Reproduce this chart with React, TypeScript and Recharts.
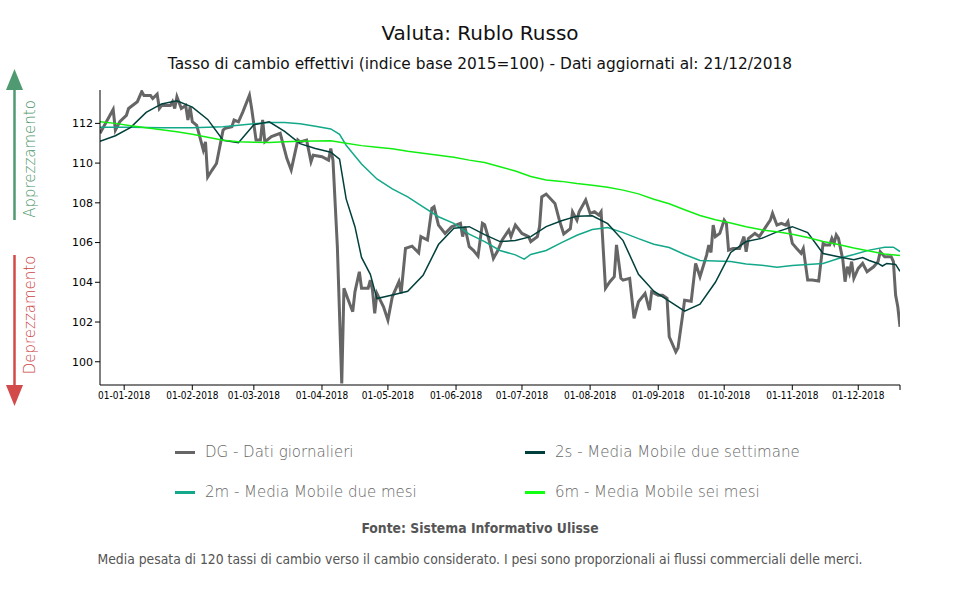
import React from 'react';
import { LineChart, Line, XAxis, YAxis } from 'recharts';

// daily series (DG)
const dgPoints: [string, number][] = [
  ['2017-12-21', 111.5], ['2017-12-27', 112.7], ['2017-12-28', 111.66], ['2017-12-30', 112.08],
  ['2018-01-02', 112.4], ['2018-01-03', 112.75], ['2018-01-07', 113.09], ['2018-01-09', 113.6],
  ['2018-01-10', 113.4], ['2018-01-13', 113.4], ['2018-01-14', 113.25], ['2018-01-16', 113.47],
  ['2018-01-17', 112.75], ['2018-01-18', 112.9], ['2018-01-22', 112.9], ['2018-01-23', 113.09],
  ['2018-01-24', 112.75], ['2018-01-25', 113.34], ['2018-01-27', 112.75], ['2018-01-29', 112.9],
  ['2018-01-30', 112.17], ['2018-01-31', 112.83], ['2018-02-01', 112.08], ['2018-02-03', 111.9],
  ['2018-02-04', 111.5], ['2018-02-06', 110.66], ['2018-02-07', 111.07], ['2018-02-08', 109.3],
  ['2018-02-10', 109.65], ['2018-02-12', 109.98], ['2018-02-15', 111.66], ['2018-02-16', 111.75],
  ['2018-02-19', 111.83], ['2018-02-20', 112.17], ['2018-02-22', 112.08], ['2018-02-24', 112.58],
  ['2018-02-27', 113.42], ['2018-02-28', 112.75], ['2018-03-02', 111.16], ['2018-03-04', 111.16],
  ['2018-03-05', 112.17], ['2018-03-06', 111.07], ['2018-03-09', 111.33], ['2018-03-13', 111.5],
  ['2018-03-16', 110.24], ['2018-03-18', 109.65], ['2018-03-21', 111.16], ['2018-03-22', 111.07],
  ['2018-03-25', 111.16], ['2018-03-27', 110.07], ['2018-03-28', 110.4], ['2018-04-01', 110.32],
  ['2018-04-04', 110.15], ['2018-04-05', 110.74], ['2018-04-06', 110.15], ['2018-04-08', 105.79],
  ['2018-04-10', 98.91], ['2018-04-11', 103.7], ['2018-04-13', 103.1], ['2018-04-15', 102.52],
  ['2018-04-16', 103.52], ['2018-04-18', 104.53], ['2018-04-19', 103.7], ['2018-04-22', 103.7],
  ['2018-04-23', 104.11], ['2018-04-24', 103.6], ['2018-04-25', 102.44], ['2018-04-26', 103.44],
  ['2018-04-29', 102.77], ['2018-05-01', 102.1], ['2018-05-03', 103.27], ['2018-05-06', 104.03],
  ['2018-05-07', 103.44], ['2018-05-09', 105.71], ['2018-05-12', 105.82], ['2018-05-15', 105.49],
  ['2018-05-16', 106.3], ['2018-05-19', 106.13], ['2018-05-21', 107.72], ['2018-05-22', 107.8],
  ['2018-05-24', 106.88], ['2018-05-27', 106.46], ['2018-05-30', 106.8], ['2018-06-03', 106.97],
  ['2018-06-04', 106.3], ['2018-06-05', 106.8], ['2018-06-07', 105.79], ['2018-06-09', 105.6],
  ['2018-06-11', 105.32], ['2018-06-13', 106.97], ['2018-06-14', 106.9], ['2018-06-16', 106.13],
  ['2018-06-18', 105.2], ['2018-06-20', 105.6], ['2018-06-22', 106.13], ['2018-06-25', 106.63],
  ['2018-06-26', 106.3], ['2018-06-28', 106.88], ['2018-07-01', 106.46], ['2018-07-04', 106.3],
  ['2018-07-05', 106.05], ['2018-07-08', 106.3], ['2018-07-09', 106.8], ['2018-07-10', 108.3],
  ['2018-07-12', 108.44], ['2018-07-16', 107.97], ['2018-07-18', 107.13], ['2018-07-20', 106.43],
  ['2018-07-23', 106.7], ['2018-07-24', 107.55], ['2018-07-26', 107.13], ['2018-07-27', 107.55],
  ['2018-07-30', 108.14], ['2018-08-01', 107.47], ['2018-08-03', 107.55], ['2018-08-05', 107.38],
  ['2018-08-06', 107.55], ['2018-08-08', 103.7], ['2018-08-10', 104.03], ['2018-08-12', 104.28],
  ['2018-08-13', 105.88], ['2018-08-15', 104.2], ['2018-08-16', 104.11], ['2018-08-19', 104.2],
  ['2018-08-21', 102.19], ['2018-08-23', 103.02], ['2018-08-26', 103.44], ['2018-08-28', 102.6],
  ['2018-08-29', 103.52], ['2018-09-01', 103.35], ['2018-09-03', 103.35], ['2018-09-05', 103.19],
  ['2018-09-06', 101.26], ['2018-09-09', 100.5], ['2018-09-10', 100.7], ['2018-09-12', 102.27],
  ['2018-09-13', 103.1], ['2018-09-16', 103.05], ['2018-09-18', 104.95], ['2018-09-20', 104.28],
  ['2018-09-23', 105.37], ['2018-09-24', 105.88], ['2018-09-25', 105.5], ['2018-09-26', 106.88],
  ['2018-09-27', 106.3], ['2018-09-29', 106.46], ['2018-10-01', 107.13], ['2018-10-02', 106.97],
  ['2018-10-03', 105.62], ['2018-10-05', 105.7], ['2018-10-08', 105.7], ['2018-10-10', 106.3],
  ['2018-10-11', 105.54], ['2018-10-12', 106.2], ['2018-10-15', 106.46], ['2018-10-17', 106.3],
  ['2018-10-20', 106.8], ['2018-10-22', 107.13], ['2018-10-23', 107.47], ['2018-10-25', 106.88],
  ['2018-10-27', 106.97], ['2018-10-29', 106.88], ['2018-10-30', 107.05], ['2018-11-01', 105.96],
  ['2018-11-03', 105.7], ['2018-11-05', 105.46], ['2018-11-06', 105.7], ['2018-11-08', 104.11],
  ['2018-11-10', 104.11], ['2018-11-13', 104.06], ['2018-11-15', 105.96], ['2018-11-16', 105.88],
  ['2018-11-18', 105.88], ['2018-11-19', 106.21], ['2018-11-20', 105.96], ['2018-11-21', 106.38],
  ['2018-11-22', 106.21], ['2018-11-24', 105.12], ['2018-11-25', 104.03], ['2018-11-26', 104.78],
  ['2018-11-27', 104.45], ['2018-11-28', 105.04], ['2018-11-29', 104.2], ['2018-12-01', 104.7],
  ['2018-12-03', 104.95], ['2018-12-05', 104.53], ['2018-12-08', 104.78], ['2018-12-10', 105.04],
  ['2018-12-11', 105.54], ['2018-12-13', 105.29], ['2018-12-16', 105.29], ['2018-12-17', 105.04],
  ['2018-12-18', 103.36], ['2018-12-19', 102.77], ['2018-12-20', 101.76],
];

// two-week moving average
const ma2sPoints: [string, number][] = [
  ['2017-12-21', 111.1], ['2017-12-28', 111.38], ['2018-01-04', 111.8], ['2018-01-11', 112.55],
  ['2018-01-18', 112.98], ['2018-01-25', 113.14], ['2018-02-01', 112.82], ['2018-02-08', 112.2],
  ['2018-02-15', 111.15], ['2018-02-22', 111.03], ['2018-03-01', 111.93], ['2018-03-08', 112.08],
  ['2018-03-15', 111.6], ['2018-03-22', 110.98], ['2018-03-29', 110.74], ['2018-04-05', 110.55],
  ['2018-04-09', 110.2], ['2018-04-12', 108.2], ['2018-04-16', 106.8], ['2018-04-19', 105.25],
  ['2018-04-23', 104.4], ['2018-04-26', 103.18], ['2018-05-03', 103.36], ['2018-05-10', 103.55],
  ['2018-05-17', 104.35], ['2018-05-24', 105.9], ['2018-05-31', 106.72], ['2018-06-07', 106.8],
  ['2018-06-14', 106.4], ['2018-06-21', 106.05], ['2018-06-28', 106.1], ['2018-07-05', 106.3],
  ['2018-07-12', 106.8], ['2018-07-19', 107.1], ['2018-07-26', 107.33], ['2018-08-02', 107.35],
  ['2018-08-09', 106.95], ['2018-08-16', 106.1], ['2018-08-23', 104.4], ['2018-08-30', 103.55],
  ['2018-09-06', 103.05], ['2018-09-13', 102.55], ['2018-09-20', 102.9], ['2018-09-27', 104.0],
  ['2018-10-04', 105.5], ['2018-10-11', 106.05], ['2018-10-18', 106.21], ['2018-10-25', 106.54],
  ['2018-11-01', 106.8], ['2018-11-08', 106.5], ['2018-11-15', 105.45], ['2018-11-22', 105.29],
  ['2018-11-29', 105.13], ['2018-12-03', 105.25], ['2018-12-06', 105.1], ['2018-12-10', 104.95],
  ['2018-12-12', 104.82], ['2018-12-14', 104.95], ['2018-12-18', 104.9], ['2018-12-20', 104.55],
];

// two-month moving average
const ma2mPoints: [string, number][] = [
  ['2017-12-21', 111.8], ['2017-12-28', 111.8], ['2018-01-04', 111.8], ['2018-01-11', 111.79],
  ['2018-01-18', 111.78], ['2018-01-25', 111.78], ['2018-02-01', 111.78], ['2018-02-08', 111.8],
  ['2018-02-15', 111.83], ['2018-02-22', 111.9], ['2018-03-01', 111.98], ['2018-03-08', 112.05],
  ['2018-03-15', 112.04], ['2018-03-22', 111.98], ['2018-03-29', 111.86], ['2018-04-05', 111.72],
  ['2018-04-09', 111.45], ['2018-04-12', 110.9], ['2018-04-19', 109.95], ['2018-04-26', 109.2],
  ['2018-05-03', 108.7], ['2018-05-10', 108.3], ['2018-05-17', 107.8], ['2018-05-24', 107.3],
  ['2018-05-31', 106.97], ['2018-06-07', 106.42], ['2018-06-14', 106.05], ['2018-06-21', 105.6],
  ['2018-06-28', 105.38], ['2018-07-02', 105.17], ['2018-07-05', 105.4], ['2018-07-12', 105.6],
  ['2018-07-19', 106.0], ['2018-07-26', 106.37], ['2018-08-02', 106.66], ['2018-08-09', 106.76],
  ['2018-08-16', 106.5], ['2018-08-23', 106.2], ['2018-08-30', 105.92], ['2018-09-06', 105.75],
  ['2018-09-13', 105.4], ['2018-09-20', 105.1], ['2018-09-27', 105.07], ['2018-10-04', 105.05],
  ['2018-10-11', 104.92], ['2018-10-18', 104.86], ['2018-10-25', 104.76], ['2018-11-01', 104.85],
  ['2018-11-08', 104.9], ['2018-11-15', 104.95], ['2018-11-22', 105.2], ['2018-11-29', 105.4],
  ['2018-12-06', 105.62], ['2018-12-13', 105.76], ['2018-12-17', 105.77], ['2018-12-20', 105.55],
];

// six-month moving average
const ma6mPoints: [string, number][] = [
  ['2017-12-21', 112.08], ['2017-12-28', 112.0], ['2018-01-04', 111.88], ['2018-01-11', 111.78],
  ['2018-01-18', 111.68], ['2018-01-25', 111.58], ['2018-02-01', 111.45], ['2018-02-08', 111.3],
  ['2018-02-15', 111.15], ['2018-02-22', 111.07], ['2018-03-01', 111.05], ['2018-03-08', 111.04],
  ['2018-03-15', 111.07], ['2018-03-22', 111.1], ['2018-03-29', 111.11], ['2018-04-05', 111.12],
  ['2018-04-12', 111.0], ['2018-04-19', 110.88], ['2018-04-26', 110.8], ['2018-05-03', 110.72],
  ['2018-05-10', 110.6], ['2018-05-17', 110.5], ['2018-05-24', 110.4], ['2018-05-31', 110.3],
  ['2018-06-07', 110.15], ['2018-06-14', 110.03], ['2018-06-21', 109.82], ['2018-06-28', 109.6],
  ['2018-07-05', 109.33], ['2018-07-12', 109.15], ['2018-07-19', 109.08], ['2018-07-26', 108.97],
  ['2018-08-02', 108.88], ['2018-08-09', 108.78], ['2018-08-16', 108.64], ['2018-08-23', 108.45],
  ['2018-08-30', 108.18], ['2018-09-06', 107.95], ['2018-09-13', 107.65], ['2018-09-20', 107.36],
  ['2018-09-27', 107.15], ['2018-10-04', 106.98], ['2018-10-11', 106.8], ['2018-10-18', 106.64],
  ['2018-10-25', 106.54], ['2018-11-01', 106.42], ['2018-11-08', 106.25], ['2018-11-15', 106.05],
  ['2018-11-22', 105.9], ['2018-11-29', 105.73], ['2018-12-06', 105.58], ['2018-12-13', 105.42],
  ['2018-12-20', 105.35],
];

const monthTicks = [
  '2018-01-01', '2018-02-01', '2018-03-01', '2018-04-01', '2018-05-01', '2018-06-01',
  '2018-07-01', '2018-08-01', '2018-09-01', '2018-10-01', '2018-11-01', '2018-12-01',
];
const yTicks = [100, 102, 104, 106, 108, 110, 112];

const legendItems = [
  { name: 'DG - Dati giornalieri', color: '#666666' },
  { name: '2s - Media Mobile due settimane', color: '#00403c' },
  { name: '2m - Media Mobile due mesi', color: '#14a88a' },
  { name: '6m - Media Mobile sei mesi', color: '#11ff11' },
];

// day number from 1 Jan 2018
const toDay = (s: string) => {
  const [y, m, d] = s.split('-').map(Number);
  return (Date.UTC(y, m - 1, d) - Date.UTC(2018, 0, 1)) / 86400000;
};
const toRows = (pts: [string, number][]) => pts.map(([date, v]) => ({ d: toDay(date), v }));

const dgData = toRows(dgPoints);
const ma2sData = toRows(ma2sPoints);
const ma2mData = toRows(ma2mPoints);
const ma6mData = toRows(ma6mPoints);

const startDay = toDay('2017-12-21');
const endDay = toDay('2018-12-20');
const xTicks = [...monthTicks.map(toDay), endDay];

const fmtTick = (d: number) => {
  if (d === endDay) return '';
  const dt = new Date(Date.UTC(2018, 0, 1) + d * 86400000);
  const mm = String(dt.getUTCMonth() + 1).padStart(2, '0');
  return `01-${mm}-2018`;
};

const cond = '"DejaVu Sans Condensed", "DejaVu Sans", sans-serif';

export default function App() {
  return (
    <div style={{ position: 'absolute', left: 0, top: 0, width: 960, height: 600, background: '#fff', fontFamily: '"DejaVu Sans", sans-serif' }}>
      <LineChart width={960} height={600} margin={{ top: 90, right: 60, bottom: 185, left: 40 }}>
        <XAxis
          type="number"
          dataKey="d"
          domain={[startDay, endDay]}
          ticks={xTicks}
          tickFormatter={fmtTick}
          allowDataOverflow
          height={30}
          tickSize={5}
          tickMargin={2}
          axisLine={{ stroke: '#000' }}
          tickLine={{ stroke: '#000' }}
          tick={{ fontSize: 10, fill: '#000', fontFamily: cond }}
        />
        <YAxis
          type="number"
          domain={[98.83, 113.68]}
          ticks={yTicks}
          allowDataOverflow
          width={60}
          tickSize={5}
          axisLine={{ stroke: '#000' }}
          tickLine={{ stroke: '#000' }}
          tick={{ fontSize: 11, fill: '#000' }}
        />
        <Line data={dgData} dataKey="v" type="linear" stroke="#666666" strokeWidth={3} dot={false} isAnimationActive={false} />
        <Line data={ma2mData} dataKey="v" type="linear" stroke="#14a88a" strokeWidth={1.5} dot={false} isAnimationActive={false} />
        <Line data={ma2sData} dataKey="v" type="linear" stroke="#00403c" strokeWidth={1.5} dot={false} isAnimationActive={false} />
        <Line data={ma6mData} dataKey="v" type="linear" stroke="#11ee11" strokeWidth={1.5} dot={false} isAnimationActive={false} />
      </LineChart>

      <div style={{ position: 'absolute', left: 0, top: 21, width: 960, textAlign: 'center', fontSize: 20, color: '#111' }}>
        Valuta: Rublo Russo
      </div>
      <div style={{ position: 'absolute', left: 0, top: 55, width: 960, textAlign: 'center', fontSize: 15.4, color: '#111' }}>
        Tasso di cambio effettivi (indice base 2015=100) - Dati aggiornati al: 21/12/2018
      </div>

      <svg width={60} height={420} style={{ position: 'absolute', left: 0, top: 0 }}>
        <line x1={14.5} y1={88} x2={14.5} y2={220} stroke="#4f9a70" strokeWidth={2.5} />
        <polygon points="6,90 23,90 14.5,69" fill="#4f9a70" />
        <text transform="translate(35,159) rotate(-90)" textAnchor="middle" fontSize={15} fontWeight={200} fill="#4a9468" fontFamily='"DejaVu Sans", sans-serif'>
          Apprezzamento
        </text>
        <line x1={14.5} y1={255} x2={14.5} y2={387} stroke="#d24a4a" strokeWidth={2.5} />
        <polygon points="6,385 23,385 14.5,406" fill="#d24a4a" />
        <text transform="translate(35,315) rotate(-90)" textAnchor="middle" fontSize={15} fontWeight={200} fill="#cc4444" fontFamily='"DejaVu Sans", sans-serif'>
          Deprezzamento
        </text>
      </svg>

      {legendItems.map((it, i) => (
        <div
          key={it.name}
          style={{
            position: 'absolute',
            left: i % 2 === 0 ? 175 : 525,
            top: i < 2 ? 442 : 482,
            height: 20,
            display: 'flex',
            alignItems: 'center',
            fontSize: 15,
            fontWeight: 200,
            color: '#666',
          }}
        >
          <span style={{ display: 'inline-block', width: 20, height: 3, background: it.color, marginRight: 10 }} />
          {it.name}
        </div>
      ))}

      <div style={{ position: 'absolute', left: 0, top: 520, width: 960, textAlign: 'center', fontSize: 13.8, fontWeight: 'bold', color: '#555', fontFamily: cond }}>
        Fonte: Sistema Informativo Ulisse
      </div>
      <div style={{ position: 'absolute', left: 0, top: 551, width: 960, textAlign: 'center', fontSize: 13.8, color: '#555', fontFamily: cond }}>
        Media pesata di 120 tassi di cambio verso il cambio considerato. I pesi sono proporzionali ai flussi commerciali delle merci.
      </div>
    </div>
  );
}
